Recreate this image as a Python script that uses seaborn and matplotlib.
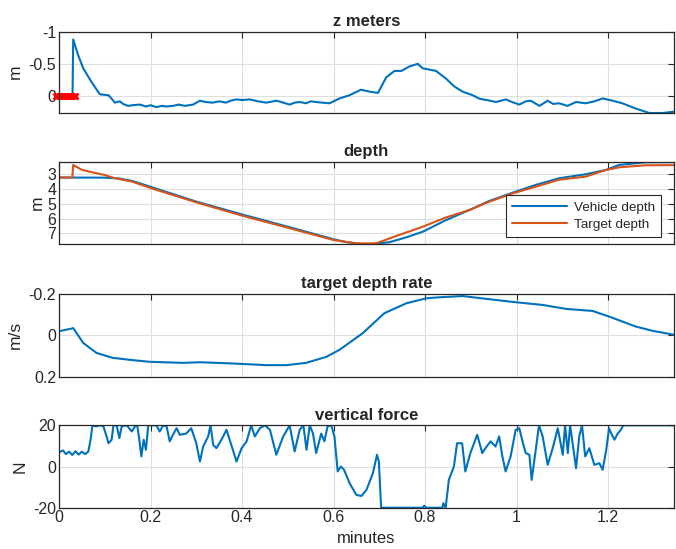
import numpy as np
import matplotlib
matplotlib.use("Agg")
import matplotlib.pyplot as plt
import seaborn as sns

# --- dane ---
# z meters
z_t = [0.0, 0.0295, 0.031, 0.042, 0.053, 0.071, 0.089, 0.100, 0.108, 0.114, 0.122, 0.133,
       0.140, 0.151, 0.160, 0.177, 0.190, 0.200, 0.213, 0.225, 0.235, 0.249, 0.262, 0.275,
       0.293, 0.308, 0.320, 0.336, 0.350, 0.365, 0.375, 0.388, 0.400, 0.417, 0.435, 0.453,
       0.475, 0.490, 0.504, 0.515, 0.526, 0.540, 0.550, 0.562, 0.575, 0.591, 0.613, 0.635,
       0.660, 0.679, 0.697, 0.715, 0.733, 0.748, 0.766, 0.784, 0.795, 0.810, 0.824, 0.846,
       0.864, 0.882, 0.904, 0.919, 0.935, 0.955, 0.977, 0.990, 1.006, 1.020, 1.031, 1.050,
       1.068, 1.080, 1.093, 1.111, 1.130, 1.151, 1.170, 1.188, 1.210, 1.231, 1.260, 1.290,
       1.319, 1.344]
z_m = [0.0, 0.01, -0.877, -0.63, -0.43, -0.22, -0.03, -0.02, -0.015, 0.03, 0.10, 0.08,
       0.12, 0.15, 0.14, 0.13, 0.16, 0.14, 0.17, 0.15, 0.16, 0.15, 0.13, 0.15,
       0.13, 0.07, 0.09, 0.10, 0.08, 0.10, 0.07, 0.05, 0.06, 0.05, 0.08, 0.10,
       0.07, 0.10, 0.13, 0.10, 0.09, 0.11, 0.08, 0.09, 0.10, 0.11, 0.035, -0.015,
       -0.10, -0.07, -0.05, -0.29, -0.39, -0.39, -0.46, -0.50, -0.43, -0.41, -0.39, -0.27,
       -0.15, -0.07, -0.015, 0.04, 0.06, 0.09, 0.05, 0.09, 0.13, 0.08, 0.07, 0.15,
       0.07, 0.12, 0.11, 0.15, 0.09, 0.11, 0.08, 0.035, 0.07, 0.11, 0.19, 0.26,
       0.26, 0.24]
# czerwony znacznik na starcie
start_t = [-0.006, 0.035]
start_z = [0.0, 0.0]

# depth
veh_t = [0.0, 0.10, 0.13, 0.16, 0.20, 0.30, 0.40, 0.50, 0.60, 0.628, 0.671, 0.722, 0.759,
         0.795, 0.846, 0.897, 0.940, 0.991, 1.042, 1.093, 1.151, 1.195, 1.224, 1.282, 1.344]
veh_d = [3.22, 3.23, 3.28, 3.45, 3.85, 4.85, 5.72, 6.55, 7.40, 7.60, 7.75, 7.60, 7.27,
         6.89, 6.10, 5.42, 4.81, 4.25, 3.72, 3.27, 3.00, 2.71, 2.37, 2.19, 2.18]
tgt_t = [0.0, 0.029, 0.031, 0.05, 0.07, 0.10, 0.12, 0.16, 0.20, 0.30, 0.40, 0.50, 0.60,
         0.65, 0.693, 0.737, 0.795, 0.846, 0.897, 0.940, 0.991, 1.042, 1.093, 1.151, 1.195,
         1.224, 1.282, 1.344]
tgt_d = [3.22, 3.22, 2.37, 2.70, 2.85, 3.05, 3.25, 3.50, 3.93, 4.90, 5.80, 6.62, 7.45,
         7.68, 7.68, 7.18, 6.55, 5.92, 5.42, 4.86, 4.30, 3.84, 3.37, 3.16, 2.71,
         2.53, 2.39, 2.38]

# target depth rate
rate_t = [0.0, 0.028, 0.031, 0.053, 0.082, 0.118, 0.162, 0.199, 0.271, 0.308, 0.380, 0.453,
          0.497, 0.540, 0.584, 0.613, 0.664, 0.711, 0.759, 0.802, 0.831, 0.882, 0.955, 0.999,
          1.057, 1.108, 1.166, 1.202, 1.260, 1.297, 1.344]
rate_v = [-0.02, -0.033, -0.035, 0.037, 0.085, 0.109, 0.12, 0.128, 0.133, 0.13, 0.136, 0.144,
          0.144, 0.133, 0.104, 0.07, -0.011, -0.107, -0.155, -0.179, -0.184, -0.19, -0.171, -0.16,
          -0.147, -0.128, -0.118, -0.091, -0.043, -0.022, -0.003]

# vertical force
f_t = [0.0, 0.009, 0.015, 0.022, 0.029, 0.036, 0.043, 0.050, 0.057, 0.064, 0.069, 0.073,
       0.082, 0.089, 0.097, 0.104, 0.108, 0.115, 0.119, 0.126, 0.132, 0.137, 0.148, 0.159,
       0.166, 0.171, 0.175, 0.180, 0.185, 0.190, 0.195, 0.213, 0.220, 0.228, 0.235, 0.242,
       0.249, 0.257, 0.264, 0.278, 0.289, 0.300, 0.308, 0.315, 0.326, 0.331, 0.337, 0.344,
       0.355, 0.366, 0.373, 0.388, 0.399, 0.410, 0.420, 0.428, 0.439, 0.450, 0.461, 0.475,
       0.490, 0.504, 0.515, 0.526, 0.534, 0.541, 0.548, 0.555, 0.562, 0.573, 0.580, 0.587,
       0.595, 0.602, 0.609, 0.616, 0.623, 0.635, 0.650, 0.661, 0.672, 0.686, 0.695, 0.699,
       0.704, 0.795, 0.798, 0.802, 0.838, 0.840, 0.845, 0.852, 0.863, 0.870, 0.881, 0.888,
       0.899, 0.914, 0.925, 0.932, 0.943, 0.954, 0.962, 0.969, 0.976, 0.987, 0.998, 1.006,
       1.013, 1.020, 1.028, 1.033, 1.038, 1.049, 1.057, 1.068, 1.079, 1.090, 1.101, 1.106,
       1.112, 1.117, 1.123, 1.130, 1.137, 1.143, 1.150, 1.159, 1.170, 1.181, 1.188, 1.196,
       1.202, 1.207, 1.214, 1.221, 1.228, 1.233, 1.344]
f_n = [7.0, 7.8, 6.0, 7.2, 5.6, 7.4, 5.8, 7.2, 6.0, 7.3, 13.0, 19.8,
       19.5, 20.0, 19.5, 14.6, 11.3, 13.0, 20.0, 20.0, 13.8, 19.5, 20.0, 17.0,
       19.5, 20.0, 13.8, 4.9, 13.0, 8.1, 20.0, 20.0, 17.0, 20.0, 19.5, 12.2,
       15.4, 18.6, 15.4, 16.0, 18.6, 11.3, 2.4, 9.7, 14.6, 20.0, 10.5, 8.9,
       13.0, 17.8, 13.0, 2.4, 8.9, 12.2, 20.0, 14.6, 18.6, 20.0, 17.8, 5.7,
       14.6, 20.0, 7.3, 17.8, 20.0, 8.1, 20.0, 16.0, 6.5, 16.0, 12.2, 19.5,
       20.0, 14.6, -2.4, 0.0, -1.6, -8.1, -13.8, -14.3, -11.3, -3.2, 5.7, 2.4,
       -20.0, -20.0, -19.0, -20.0, -20.0, -17.8, -20.0, -6.5, 0.0, 11.3, 11.3, -2.4,
       6.5, 15.4, 6.5, 8.9, 12.2, 9.7, 14.6, 4.9, -2.4, 4.9, 17.8, 18.6,
       12.2, 6.5, 5.7, -6.5, 1.6, 20.0, 14.6, 0.8, 8.9, 18.6, 5.7, 20.0,
       6.5, 20.0, 10.5, -0.8, 14.6, 20.0, 4.9, 8.9, 0.8, 1.6, -1.6, 8.1,
       18.6, 16.0, 13.0, 16.0, 17.8, 20.0, 20.0]

blue = "#0072BD"
orange = "#D95319"

sns.set_style("whitegrid")
plt.rcParams['font.family'] = ['Liberation Sans', 'DejaVu Sans']
plt.rcParams['font.size'] = 10
plt.rcParams['axes.unicode_minus'] = False

fig = plt.figure(figsize=(6.76, 5.49), dpi=100)
boxes = [(0.9426, 0.7942), (0.7049, 0.5556), (0.4645, 0.3138), (0.2253, 0.0752)]
left, right = 0.0873, 0.997
axes = [fig.add_axes([left, b, right - left, t - b]) for t, b in boxes]

for ax in axes:
    ax.set_xlim(0, 1.344)
    ax.set_xticks([0, 0.2, 0.4, 0.6, 0.8, 1, 1.2])
    ax.grid(True, color="#dedede", linewidth=0.8)
    for s in ax.spines.values():
        s.set_color("#262626")
        s.set_linewidth(0.9)
    ax.tick_params(direction="in", top=True, right=True, length=4, width=0.8,
                   colors="#262626", labelsize=11.5, pad=2)
    ax.set_xlabel("")

# z meters
ax = axes[0]
sns.lineplot(x=z_t, y=z_m, ax=ax, color=blue, lw=1.5, estimator=None, sort=False)
ax.plot(start_t, start_z, color="red", lw=5, marker="x", ms=4.5, mew=2, clip_on=False,
        solid_capstyle="butt")
ax.set_ylim(0.26, -1)
ax.set_yticks([-1, -0.5, 0])
ax.set_yticklabels(["-1", "-0.5", "0"])
ax.set_ylabel("m", fontsize=12.5)
ax.set_title("z meters", fontweight="bold", fontsize=12, pad=4)

# depth
ax = axes[1]
sns.lineplot(x=veh_t, y=veh_d, ax=ax, color=blue, lw=1.5, estimator=None, sort=False,
             label="Vehicle depth")
sns.lineplot(x=tgt_t, y=tgt_d, ax=ax, color=orange, lw=1.5, estimator=None, sort=False,
             label="Target depth")
ax.set_ylim(7.72, 2.17)
ax.set_yticks([3, 4, 5, 6, 7])
ax.set_ylabel("m", fontsize=12.5, labelpad=2)
ax.set_title("depth", fontweight="bold", fontsize=12, pad=4)
leg = ax.legend(loc="lower right", bbox_to_anchor=(0.979, 0.085), borderaxespad=0,
                fancybox=False, framealpha=1, edgecolor="#262626", fontsize=9.7,
                borderpad=0.45, handlelength=4.1, labelspacing=0.35, handletextpad=0.5)
leg.get_frame().set_linewidth(0.8)

# target depth rate
ax = axes[2]
sns.lineplot(x=rate_t, y=rate_v, ax=ax, color=blue, lw=1.5, estimator=None, sort=False)
ax.set_ylim(0.2, -0.2)
ax.set_yticks([-0.2, 0, 0.2])
ax.set_yticklabels(["-0.2", "0", "0.2"])
ax.set_ylabel("m/s", fontsize=12.5)
ax.set_title("target depth rate", fontweight="bold", fontsize=12, pad=4)

# vertical force
ax = axes[3]
sns.lineplot(x=f_t, y=f_n, ax=ax, color=blue, lw=1.5, estimator=None, sort=False)
ax.set_ylim(-20, 20)
ax.set_yticks([-20, 0, 20])
ax.set_ylabel("N", fontsize=12.5)
ax.set_title("vertical force", fontweight="bold", fontsize=12, pad=4)
ax.set_xticklabels(["0", "0.2", "0.4", "0.6", "0.8", "1", "1.2"])
ax.set_xlabel("minutes", fontsize=12, labelpad=4)

for ax in axes[:3]:
    ax.set_xticklabels([])

plt.savefig("out.png", dpi=100)
plt.close()
